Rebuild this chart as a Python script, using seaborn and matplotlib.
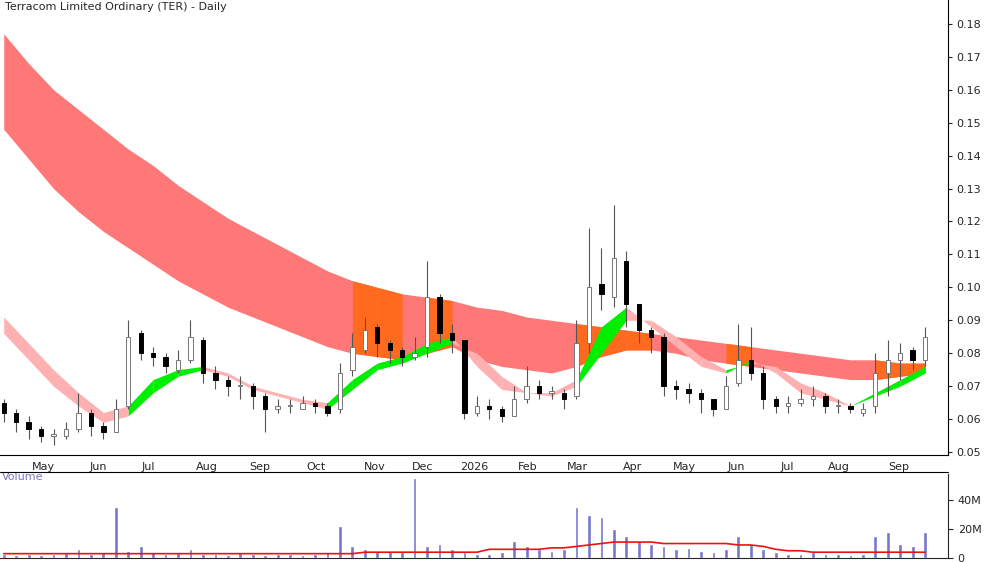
import numpy as np
import pandas as pd
import matplotlib
matplotlib.use("Agg")
import matplotlib.pyplot as plt
import seaborn as sns

# weekly candles (week index 0..74)
close = [0.062,0.059,0.057,0.055,0.055,0.057,0.062,0.058,0.056,0.063,0.085,0.080,0.079,0.076,0.078,0.085,
         0.074,0.072,0.070,0.070,0.067,0.063,0.064,0.064,0.065,0.064,0.062,0.074,0.082,0.087,0.083,0.081,
         0.079,0.080,0.097,0.086,0.084,0.062,0.064,0.063,0.061,0.066,0.070,0.068,0.068,0.066,0.083,0.100,
         0.098,0.109,0.095,0.087,0.085,0.070,0.069,0.068,0.066,0.063,0.070,0.078,0.074,0.066,0.064,0.065,
         0.066,0.067,0.064,0.064,0.063,0.063,0.074,0.078,0.080,0.078,0.085]
open_ = [0.065,0.062,0.059,0.057,0.055,0.055,0.057,0.062,0.058,0.056,0.064,0.086,0.080,0.079,0.075,0.078,
         0.084,0.074,0.072,0.070,0.070,0.067,0.063,0.064,0.063,0.065,0.064,0.063,0.075,0.081,0.088,0.083,
         0.081,0.079,0.082,0.097,0.086,0.084,0.062,0.064,0.063,0.061,0.066,0.070,0.068,0.068,0.067,0.083,
         0.101,0.097,0.108,0.095,0.087,0.085,0.070,0.069,0.068,0.066,0.063,0.071,0.078,0.074,0.066,0.064,
         0.065,0.066,0.067,0.064,0.064,0.062,0.064,0.074,0.078,0.081,0.078]
high = [0.066,0.063,0.061,0.058,0.057,0.059,0.068,0.063,0.059,0.066,0.090,0.087,0.082,0.080,0.081,0.090,
        0.085,0.076,0.073,0.073,0.071,0.068,0.066,0.066,0.067,0.066,0.065,0.077,0.086,0.091,0.089,0.084,
        0.082,0.085,0.108,0.098,0.089,0.084,0.067,0.066,0.064,0.070,0.076,0.072,0.070,0.069,0.090,0.118,
        0.112,0.125,0.111,0.092,0.088,0.086,0.072,0.071,0.069,0.066,0.073,0.089,0.088,0.076,0.067,0.067,
        0.069,0.070,0.068,0.066,0.065,0.065,0.080,0.084,0.083,0.082,0.088]
low = [0.059,0.056,0.054,0.053,0.052,0.054,0.056,0.055,0.054,0.056,0.063,0.078,0.076,0.074,0.074,0.077,
       0.071,0.069,0.067,0.066,0.063,0.056,0.062,0.062,0.063,0.062,0.061,0.062,0.073,0.080,0.079,0.077,
       0.076,0.078,0.079,0.083,0.080,0.060,0.061,0.060,0.059,0.061,0.065,0.066,0.066,0.063,0.066,0.080,
       0.093,0.094,0.088,0.083,0.080,0.067,0.066,0.065,0.062,0.061,0.063,0.070,0.072,0.063,0.062,0.062,
       0.064,0.064,0.062,0.062,0.062,0.061,0.062,0.067,0.072,0.075,0.076]

# bands sampled every 2 weeks (week index 0,2,...,74)
long_up = [0.177,0.168,0.160,0.154,0.148,0.142,0.137,0.131,0.126,0.121,0.117,0.113,0.109,0.105,0.102,0.100,
           0.098,0.097,0.096,0.094,0.093,0.091,0.090,0.089,0.088,0.087,0.086,0.085,0.084,0.083,0.082,
           0.081,0.080,0.079,0.078,0.078,0.077,0.077]
long_lo = [0.148,0.139,0.130,0.123,0.117,0.112,0.107,0.102,0.098,0.094,0.091,0.088,0.085,0.082,0.080,0.079,
           0.078,0.080,0.082,0.078,0.076,0.075,0.074,0.076,0.079,0.081,0.081,0.080,0.078,0.077,0.076,
           0.075,0.074,0.073,0.072,0.072,0.073,0.074]
long_bull = [0,0,0,0,0,0,0,0,0,0,0,0,0,0,1,1,0,1,0,0,0,0,0,1,1,1,0,0,0,1,0,0,0,0,0,1,1,0]
short_a = [0.091,0.083,0.075,0.068,0.062,0.064,0.072,0.075,0.076,0.074,0.070,0.068,0.066,0.065,0.072,0.077,
           0.079,0.083,0.085,0.076,0.069,0.068,0.068,0.072,0.088,0.094,0.088,0.082,0.076,0.074,0.078,
           0.074,0.068,0.066,0.064,0.068,0.072,0.076]
short_b = [0.086,0.078,0.070,0.064,0.059,0.061,0.068,0.073,0.075,0.073,0.069,0.067,0.065,0.063,0.069,0.075,
           0.077,0.080,0.083,0.080,0.073,0.068,0.067,0.070,0.080,0.090,0.090,0.085,0.079,0.075,0.077,
           0.076,0.071,0.068,0.064,0.067,0.070,0.074]
short_up = [0,0,0,0,0,1,1,1,0,0,0,0,0,1,1,1,1,1,0,0,0,0,0,1,1,0,0,0,0,1,0,0,0,0,1,1,1,0]

vol = [3,2,3,2,3,4,6,3,4,35,5,8,4,3,4,6,3,3,2,4,3,2,3,3,2,3,4,22,8,6,5,5,4,55,8,10,6,4,3,3,4,12,8,6,5,6,
       35,30,28,20,15,12,10,8,6,7,5,4,6,15,10,6,4,3,3,4,3,3,2,3,15,18,10,8,18]
vol_ma = [3,3,3,3,3,3,3,3,3,3,3,3,3,3,3,3,3,3,3,3,3,3,3,3,3,3,3,3,3,4,4,4,4,4,4,4,4,4,4,6,6,6,6,6,7,7,
          8,9,10,11,11,11,11,10,10,10,10,10,10,9,9,8,6,5,5,4,4,4,4,4,4,4,4,4,4]

months = ["May","Jun","Jul","Aug","Sep","Oct","Nov","Dec","2026","Feb","Mar","Apr","May","Jun","Jul","Aug","Sep"]
month_px = [40,95,145,204,257,313,372,421,472,526,576,631,683,735,787,838,899]

sns.set_style("white")
plt.rcParams['font.family'] = ['DejaVu Sans']
fig = plt.figure(figsize=(10, 5.62), dpi=100)
W = 948
ax = fig.add_axes([0, 1-455/562, W/1000, 455/562])
axv = fig.add_axes([0, 4/562, W/1000, (556-472)/562])

pxw = 12.5
wk = np.arange(len(close))
xs = wk + 0.0
xb = np.arange(len(long_up)) * 2.0

ax.fill_between(xb, long_lo, long_up, color="#ff7878", lw=0)
for i in range(len(xb) - 1):
    if long_bull[i]:
        ax.fill_between(xb[i:i+2], long_lo[i:i+2], long_up[i:i+2], color="#ff6a1f", lw=0)
for i in range(len(xb) - 1):
    c = "#00ee00" if short_up[i] else "#ffb0b0"
    ax.fill_between(xb[i:i+2], short_b[i:i+2], short_a[i:i+2], color=c, lw=0)

for i in wk:
    ax.vlines(xs[i], low[i], high[i], color="#555555", lw=0.8, zorder=3)
    up = close[i] >= open_[i]
    lo_b, hi_b = min(open_[i], close[i]), max(open_[i], close[i])
    ax.bar(xs[i], max(hi_b - lo_b, 0.0004), bottom=lo_b, width=0.35,
           color="white" if up else "black", edgecolor="#777777" if up else "black", lw=0.7, zorder=4)

x_max = 948 / pxw
ax.set_xlim(-0.3, x_max)
ax.set_ylim(0.05 - 3/33.15*0.01, 0.05 + (455)/33.15*0.01)
ax.yaxis.tick_right()
ax.set_yticks(np.round(np.arange(0.05, 0.181, 0.01), 2))
ax.set_yticklabels([f"{v:.2f}" for v in np.arange(0.05, 0.181, 0.01)], fontsize=8)
ax.set_xticks([p / pxw for p in month_px])
ax.set_xticklabels(months, fontsize=8)
ax.tick_params(axis="x", length=3, pad=2)
ax.tick_params(axis="y", length=3, pad=3)
for s in ["top", "left"]:
    ax.spines[s].set_visible(False)
ax.spines["right"].set_color("black")
ax.spines["bottom"].set_color("black")
ax.text(0.005, 0.995, "Terracom Limited Ordinary (TER) - Daily", transform=ax.transAxes,
        fontsize=8, va="top", ha="left")

axv.bar(xs, vol, width=0.3, color="#7777cc")
sns.lineplot(x=xs, y=vol_ma, ax=axv, color="#ee1111", lw=1.2)
axv.set_xlim(-0.3, x_max)
axv.set_ylim(0, 58)
axv.yaxis.tick_right()
axv.set_yticks([0, 20, 40])
axv.set_yticklabels(["0", "20M", "40M"], fontsize=8)
axv.set_xticks([])
for s in ["top", "left"]:
    axv.spines[s].set_visible(False)
axv.text(0.002, 1.02, "Volume", transform=axv.transAxes, fontsize=8, color="#7777bb", va="top")
fig.add_artist(plt.Line2D([0, W/1000], [1-472/562, 1-472/562], color="black", lw=0.8))
fig.savefig("out.png", dpi=100)
